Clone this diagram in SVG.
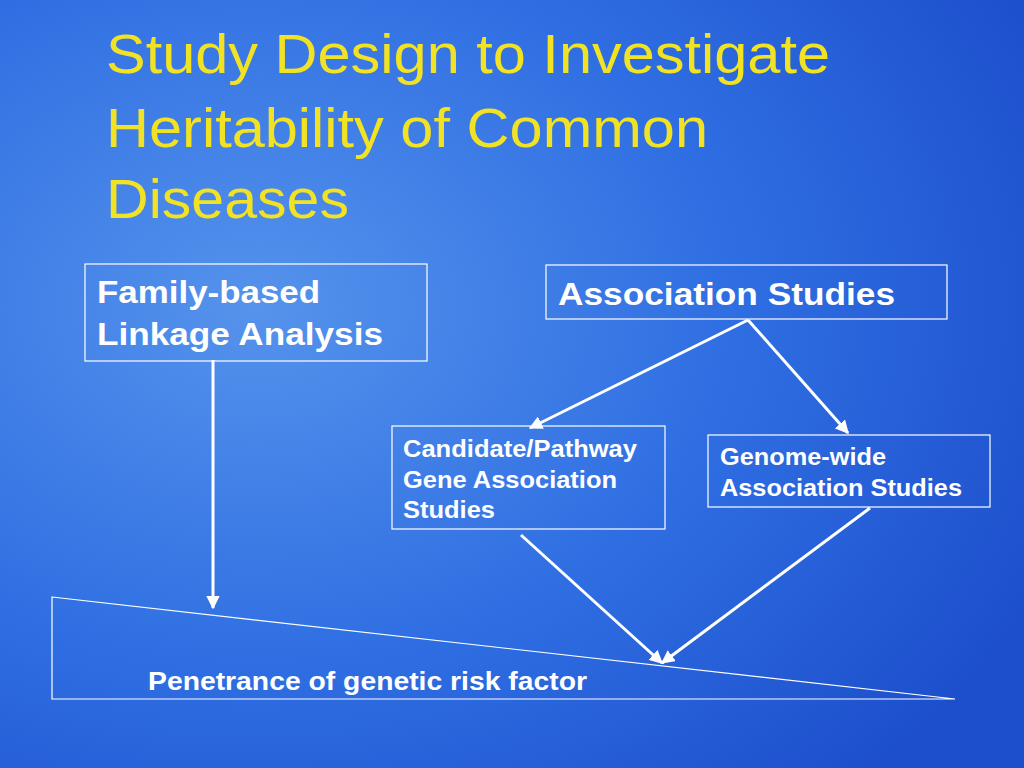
<svg xmlns="http://www.w3.org/2000/svg" width="1024" height="768" viewBox="0 0 1024 768">
<defs>
<radialGradient id="bg" cx="0.25" cy="0.4" r="0.85">
<stop offset="0" stop-color="#5593ec"/>
<stop offset="0.55" stop-color="#2f6ee2"/>
<stop offset="1" stop-color="#1d4fcc"/>
</radialGradient>
<marker id="ah" viewBox="0 0 10 10" refX="9" refY="5" markerWidth="4.5" markerHeight="4.5" orient="auto">
<path d="M0,0 L10,5 L0,10 z" fill="#fff"/>
</marker>
<style>
.box{fill:none;stroke:#fff;stroke-width:1.2}
.t{font-family:"Liberation Sans",Arial,sans-serif;font-weight:bold;fill:#fff}
.title{font-family:"Liberation Sans",Arial,sans-serif;fill:#f2e224;font-size:56px}
.c{stroke:#fff;stroke-width:3;fill:none;marker-end:url(#ah)}
</style>
</defs>
<rect width="1024" height="768" fill="url(#bg)"/>
<g id="title" class="title">
<text x="106" y="73" textLength="724" lengthAdjust="spacingAndGlyphs">Study Design to Investigate</text>
<text x="106" y="147" textLength="602" lengthAdjust="spacingAndGlyphs">Heritability of Common</text>
<text x="106" y="218" textLength="243" lengthAdjust="spacingAndGlyphs">Diseases</text>
</g>
<g id="family">
<rect class="box" x="85" y="264" width="342" height="97"/>
<text class="t" x="97" y="303" font-size="32" textLength="223" lengthAdjust="spacingAndGlyphs">Family-based</text>
<text class="t" x="97" y="345" font-size="32" textLength="286" lengthAdjust="spacingAndGlyphs">Linkage Analysis</text>
</g>
<g id="assoc">
<rect class="box" x="546" y="265" width="401" height="54"/>
<text class="t" x="558" y="305" font-size="32" textLength="337" lengthAdjust="spacingAndGlyphs">Association Studies</text>
</g>
<g id="candidate">
<rect class="box" x="392" y="426" width="273" height="103"/>
<text class="t" x="403" y="457" font-size="23" textLength="234" lengthAdjust="spacingAndGlyphs">Candidate/Pathway</text>
<text class="t" x="403" y="488" font-size="23" textLength="214" lengthAdjust="spacingAndGlyphs">Gene Association</text>
<text class="t" x="403" y="518" font-size="23" textLength="92" lengthAdjust="spacingAndGlyphs">Studies</text>
</g>
<g id="gwas">
<rect class="box" x="708" y="435" width="282" height="72"/>
<text class="t" x="720" y="465" font-size="23" textLength="166" lengthAdjust="spacingAndGlyphs">Genome-wide</text>
<text class="t" x="720" y="496" font-size="23" textLength="242" lengthAdjust="spacingAndGlyphs">Association Studies</text>
</g>
<g id="penetrance">
<polygon points="52,597 955,699 52,699" fill="none" stroke="#fff" stroke-width="1.2"/>
<text class="t" x="148" y="690" font-size="26" textLength="439" lengthAdjust="spacingAndGlyphs">Penetrance of genetic risk factor</text>
</g>
<g id="connectors">
<line class="c" x1="213" y1="360" x2="213" y2="608"/>
<line class="c" x1="748" y1="320" x2="530" y2="428"/>
<line class="c" x1="748" y1="320" x2="848" y2="433"/>
<line class="c" x1="521" y1="535" x2="662" y2="663"/>
<line class="c" x1="870" y1="508" x2="662" y2="663"/>
</g>
</svg>
